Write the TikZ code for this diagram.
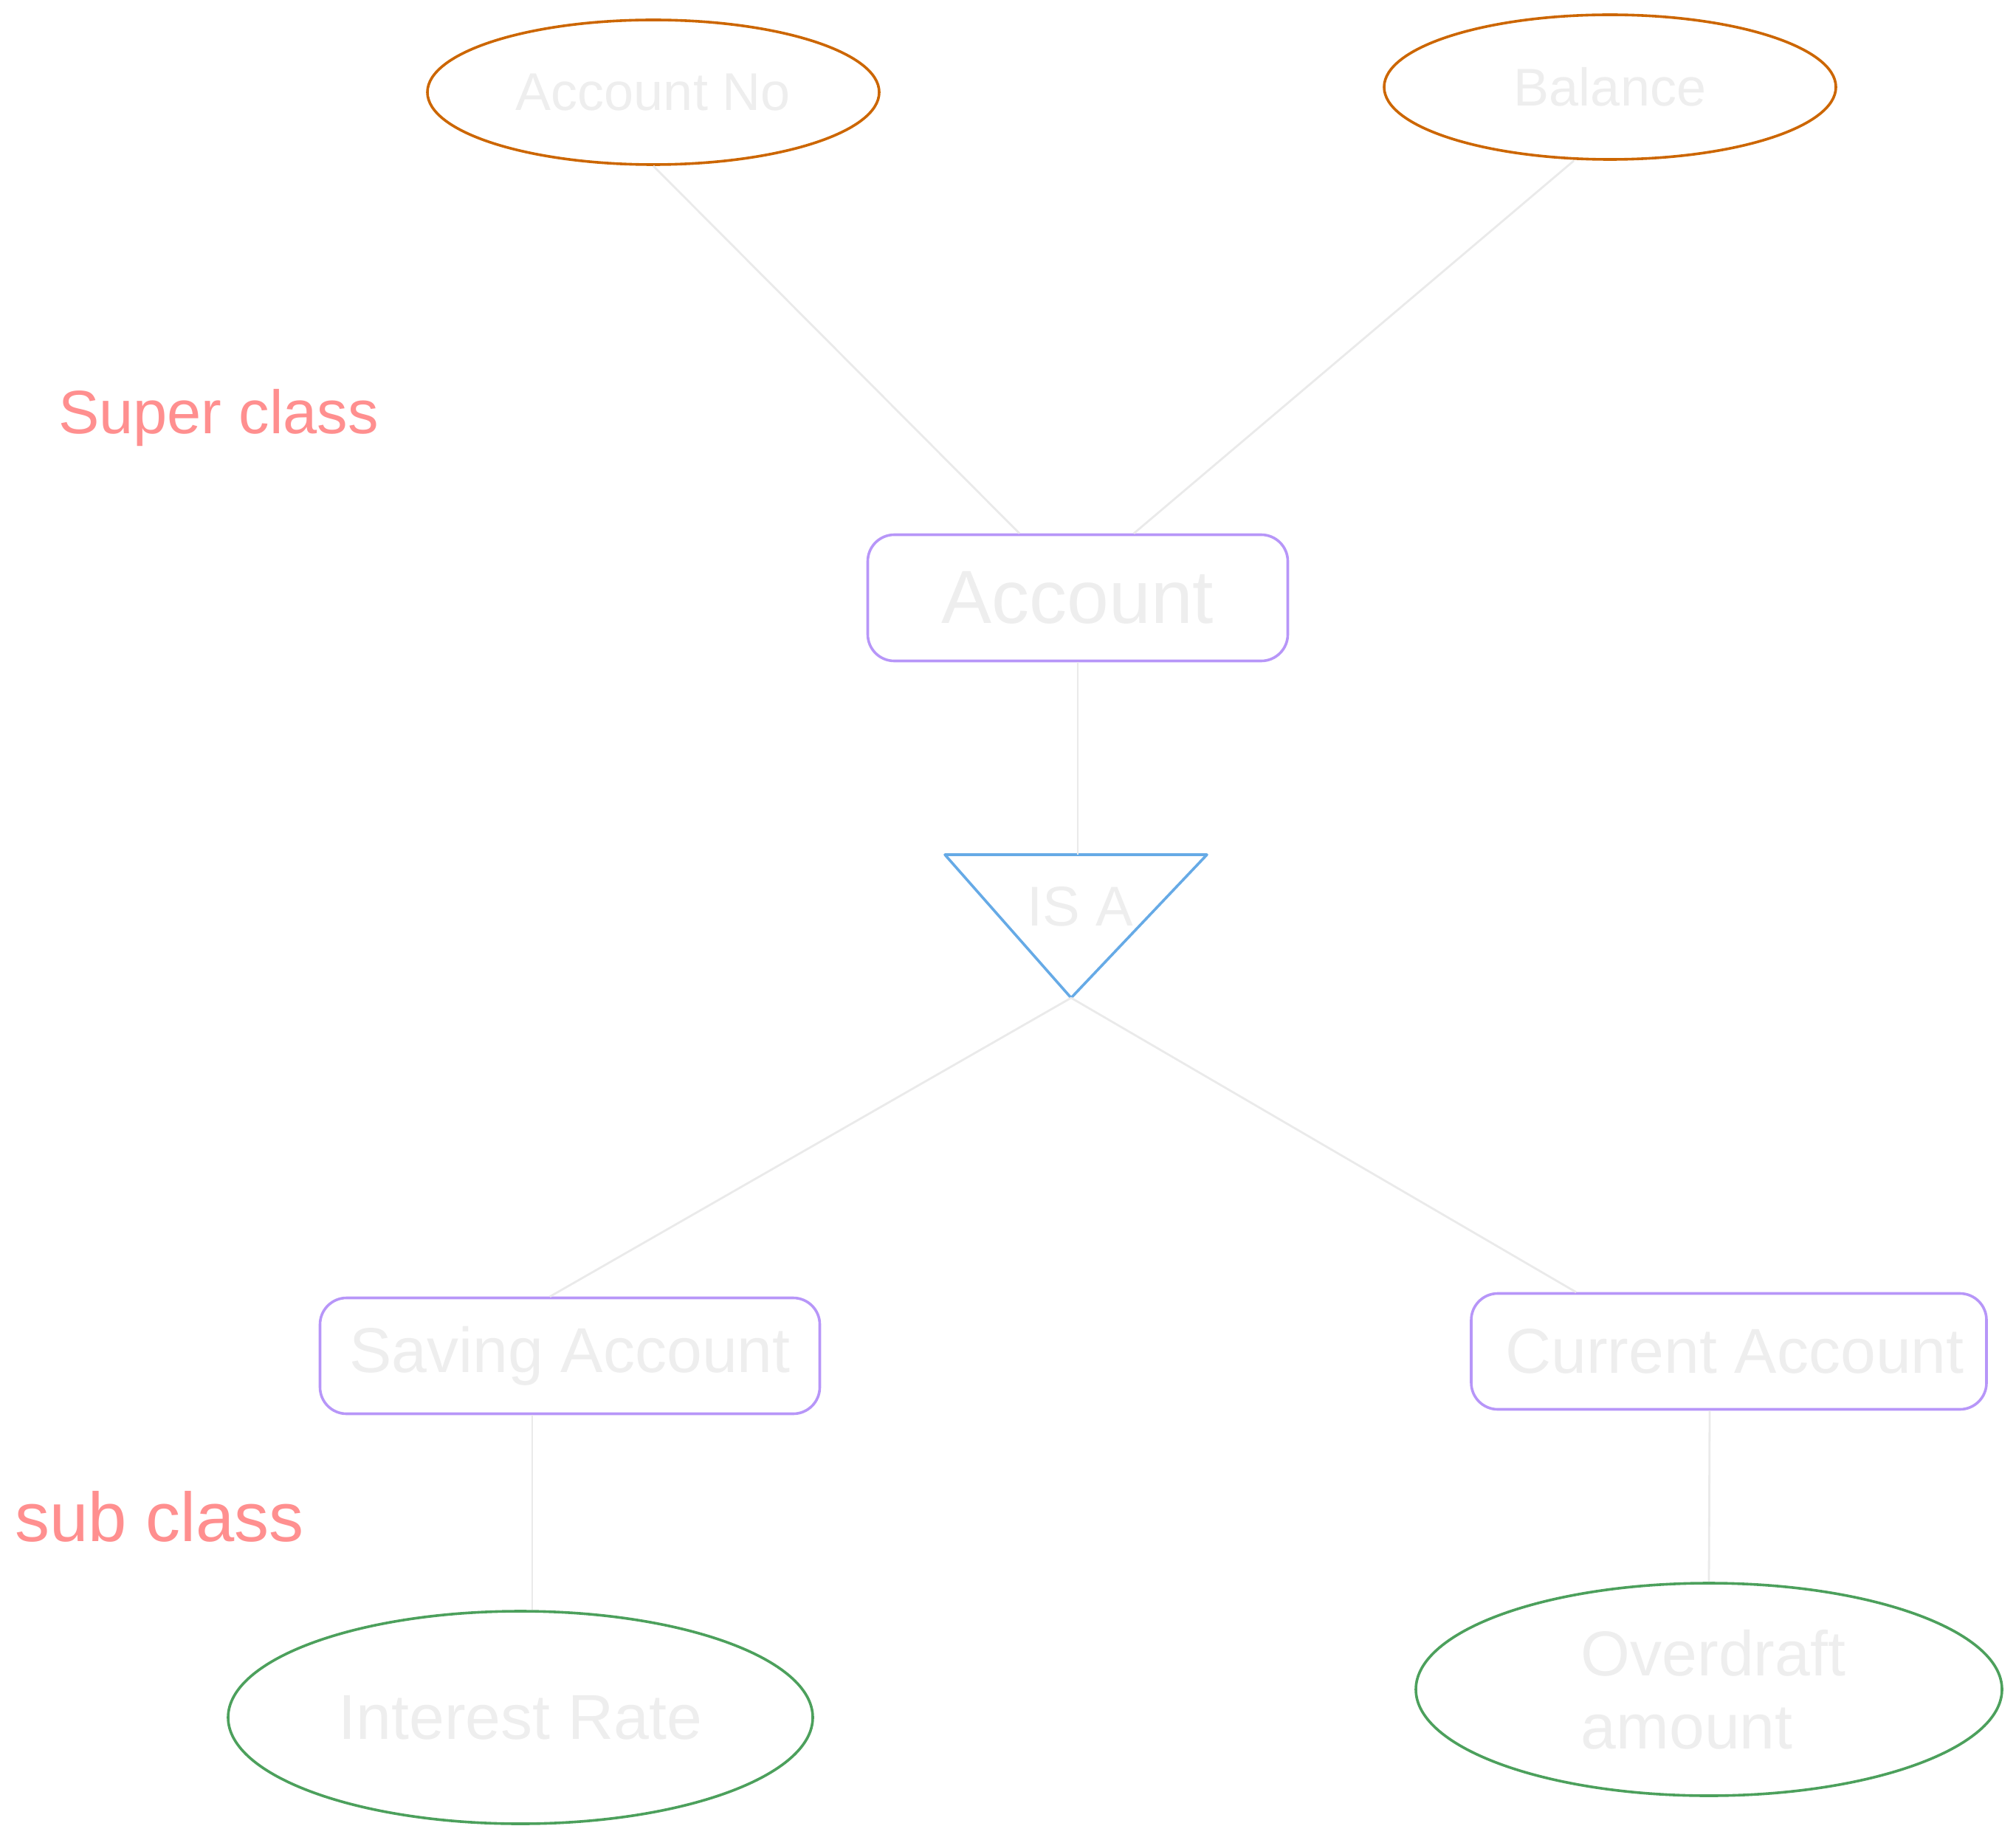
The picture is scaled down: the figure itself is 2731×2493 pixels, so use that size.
\documentclass[tikz,border=0pt]{standalone}
\usepackage{fontspec}
\setmainfont{Liberation Sans}
\usetikzlibrary{shapes.geometric}
\definecolor{attrorange}{RGB}{204,102,0}
\definecolor{attrgreen}{RGB}{76,160,92}
\definecolor{entpurple}{RGB}{183,150,248}
\definecolor{isablue}{RGB}{102,170,230}
\definecolor{notepink}{RGB}{255,143,143}
\definecolor{lbl}{RGB}{238,238,238}
\definecolor{linkgray}{RGB}{234,234,234}
\newcommand{\fsz}[1]{\fontsize{#1}{1.15\dimexpr#1\relax}\selectfont}

\begin{document}
\begin{tikzpicture}[x=0.25pt,y=-0.25pt,
  entity/.style={draw=entpurple,line width=0.9pt,rounded corners=9pt,inner sep=0pt,text=lbl},
  attr/.style={ellipse,draw=attrorange,line width=0.9pt,inner sep=0pt,text=lbl},
  subattr/.style={attr,draw=attrgreen},
  link/.style={draw=linkgray,line width=0.7pt},
  note/.style={text=notepink}]
  \useasboundingbox (0,0) rectangle (2731,2493);
  \node[attr,minimum width=153pt,minimum height=49pt,font=\fsz{18pt}] (accno) at (885,125) {Account No};
  \node[attr,minimum width=153pt,minimum height=49pt,font=\fsz{18pt}] (bal) at (2181,118) {Balance};
  \node[entity,minimum width=142.25pt,minimum height=42.75pt,font=\fsz{25.5pt}] (acct) at (1460,810) {Account\hspace{6pt}};
  \node[entity,minimum width=169.25pt,minimum height=39.25pt,font=\fsz{21.5pt}] (save) at (772,1837) {Saving Account};
  \node[entity,minimum width=174.5pt,minimum height=39.25pt,font=\fsz{21.5pt}] (curr) at (2342,1831) {\hspace{4pt}Current Account};
  \node[subattr,minimum width=198pt,minimum height=72pt,font=\fsz{21.5pt}] (rate) at (705,2327) {Interest Rate\hspace{9pt}};
  \node[subattr,minimum width=198.5pt,minimum height=72pt,align=left,font=\fsz{21.5pt}] (od) at (2315,2289) {\hspace{3pt}Overdraft\\\hspace{3pt}amount};
  \coordinate (isa-l) at (1280,1158);
  \coordinate (isa-r) at (1635,1158);
  \coordinate (isa-tip) at (1451,1352);
  \draw[isablue,line width=0.9pt,line join=round] (isa-l) -- (isa-r) -- (isa-tip) -- cycle;
  \node[text=lbl,font=\fsz{19pt}] (isa) at (1463,1228) {IS A};
  \node[note,font=\fsz{20.75pt}] (super) at (296,566) {Super class};
  \node[note,font=\fsz{23.5pt}] (sub) at (216,2055) {sub class};
  \draw[link] (accno.south) -- ([xshift=-19.75pt]acct.north);
  \draw[link] ([xshift=-12.25pt]bal.south) -- ([xshift=19pt]acct.north);
  \draw[link] (acct.south) -- (acct.south |- isa-l);
  \draw[link] (isa-tip) -- ([xshift=-6.75pt]save.north);
  \draw[link] (isa-tip) -- ([xshift=-51.75pt]curr.north);
  \draw[link] ([xshift=-12.75pt]save.south) -- ([xshift=4pt]rate.north);
  \draw[link] ([xshift=-6.5pt]curr.south) -- (od.north);
\end{tikzpicture}
\end{document}
